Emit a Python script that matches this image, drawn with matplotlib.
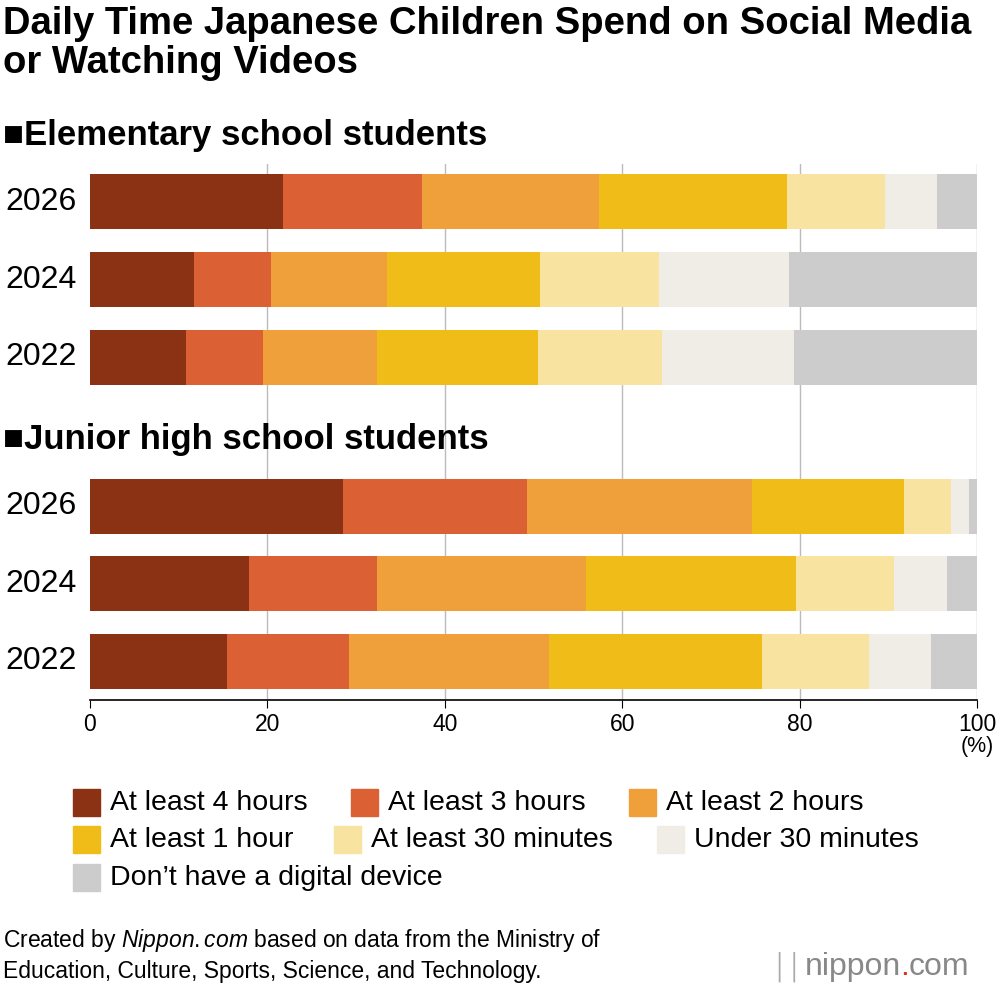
import matplotlib
matplotlib.use("Agg")
import matplotlib.pyplot as plt
from matplotlib.patches import Rectangle
import numpy as np

plt.rcParams['font.family'] = ['Liberation Sans', 'DejaVu Sans']
plt.rcParams['mathtext.fontset'] = 'custom'
plt.rcParams['mathtext.it'] = 'Liberation Sans:italic'
plt.rcParams['mathtext.rm'] = 'Liberation Sans'

years = ["2026", "2024", "2022"]
categories = ["At least 4 hours", "At least 3 hours", "At least 2 hours",
              "At least 1 hour", "At least 30 minutes", "Under 30 minutes",
              "Don\u2019t have a digital device"]
colors = ["#8B3215", "#DB6033", "#F0A03A", "#F0BC18", "#F8E3A0", "#F0ECE6", "#CCCCCC"]

elem = np.array([
    [21.8, 15.6, 20.0, 21.2, 11.0, 5.9, 4.5],
    [11.7, 8.7, 13.1, 17.2, 13.4, 14.7, 21.2],
    [10.8, 8.7, 12.9, 18.1, 14.0, 14.9, 20.6],
])
junior = np.array([
    [28.5, 20.8, 25.3, 17.2, 5.3, 2.0, 0.9],
    [17.9, 14.5, 23.5, 23.7, 11.0, 6.0, 3.4],
    [15.4, 13.8, 22.5, 24.1, 12.0, 7.0, 5.2],
])

fig = plt.figure(figsize=(10, 9.88), dpi=100)
H = 988
ax = fig.add_axes([0.09, 1 - 700 / H, 0.887, (700 - 164) / H])
ax.set_xlim(0, 100)
ax.set_ylim(700, 164)

def draw(data, start):
    for i, row in enumerate(data):
        y = start + 77.5 * i
        left = 0
        for v, c in zip(row, colors):
            ax.barh(y, v, left=left, height=55, color=c, zorder=2)
            left += v
        ax.text(-1.5, y, years[i], ha='right', va='center', fontsize=23)

draw(elem, 202)
draw(junior, 506)

for x in [20, 40, 60, 80, 100]:
    ax.axvline(x, color="#bbbbbb", lw=1, zorder=1)
for s in ['top', 'right', 'left']:
    ax.spines[s].set_visible(False)
ax.spines['bottom'].set_linewidth(1.2)
ax.set_yticks([])
ax.set_xticks([0, 20, 40, 60, 80, 100])
ax.tick_params(axis='x', labelsize=16.5, length=6, direction='out')
ax.text(100, 736, "(%)", ha='center', va='top', fontsize=15.5, clip_on=False)

fig.text(0.003, 1 - 6 / H, "Daily Time Japanese Children Spend on Social Media\nor Watching Videos",
         fontsize=27.5, fontweight='bold', va='top', linespacing=1.1)
fig.text(0.003, 1 - 136 / H, "\u25a0Elementary school students", fontsize=25, fontweight='bold', va='center')
fig.text(0.003, 1 - 440 / H, "\u25a0Junior high school students", fontsize=25, fontweight='bold', va='center')

rows = [(803, [73, 351, 629]), (840, [73, 334, 657]), (878, [73])]
k = 0
for yc, xs in rows:
    for x in xs:
        fig.add_artist(Rectangle((x / 1000, 1 - (yc + 13) / H), 27 / 1000, 27 / H,
                                 color=colors[k], transform=fig.transFigure))
        fig.text((x + 37) / 1000, 1 - yc / H, categories[k], fontsize=20.5, va='center')
        k += 1

fig.text(0.003, 1 - 955 / H, "Created by $\\it{Nippon.com}$ based on data from the Ministry of\nEducation, Culture, Sports, Science, and Technology.",
         fontsize=16.5, va='center', linespacing=1.3)
fig.text(0.772, 1 - 967 / H, "\u2502\u2502", fontsize=18, color="#aaaaaa", va='center')
fig.text(0.805, 1 - 967 / H, "nippon", fontsize=23, color="#888888", va='center')
fig.text(0.900, 1 - 967 / H, ".", fontsize=23, color="#E03020", va='center')
fig.text(0.909, 1 - 967 / H, "com", fontsize=23, color="#888888", va='center')

fig.savefig("out.png", dpi=100)
